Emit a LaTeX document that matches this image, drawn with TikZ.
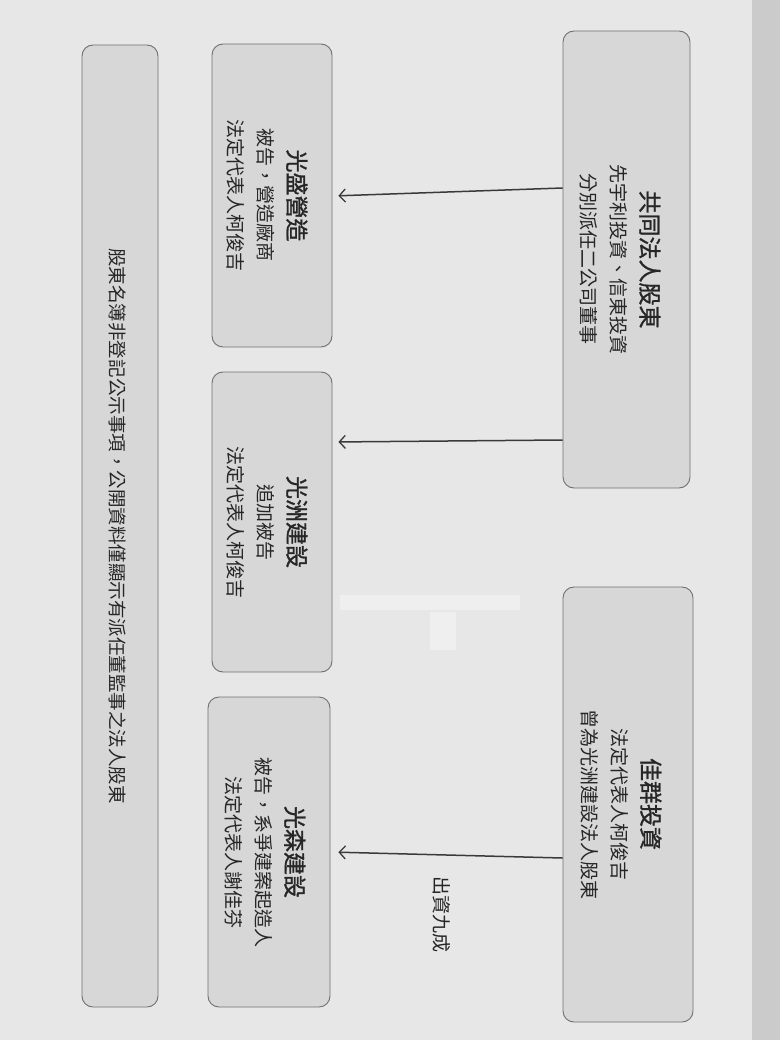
\documentclass[tikz,border=0pt]{standalone}
\usepackage{fontspec}
\setmainfont{Noto Sans CJK TC}
\newfontfamily\ttlfont[FakeBold=1.2]{Noto Sans CJK TC}
\usetikzlibrary{arrows.meta}
\definecolor{bg}{HTML}{E7E7E7}
\definecolor{strip}{HTML}{CBCBCB}
\definecolor{boxfill}{HTML}{D7D7D7}
\definecolor{boxline}{HTML}{707070}
\definecolor{ink}{HTML}{262626}
\definecolor{arrowc}{HTML}{3A3A3A}
\begin{document}
\begin{tikzpicture}[x=1pt,y=-1pt,
  box/.style={draw=boxline, fill=boxfill, line width=0.9pt, rounded corners=11pt, inner sep=0pt},
  txt/.style={rotate=-90, align=center, text=ink, inner sep=0pt, font=\fontsize{19}{30}\selectfont},
  arr/.style={-{Straight Barb[length=6pt,width=13pt,line width=1.3pt]}, line width=1.5pt, draw=arrowc}]
\useasboundingbox (0,0) rectangle (780,1040);
\fill[bg] (0,0) rectangle (780,1040);
\fill[strip] (752,0) rectangle (780,1040);
\fill[white, opacity=0.35] (340,595) rectangle (520,610);
\fill[white, opacity=0.35] (430,612) rectangle (456,650);
% boxes
\node[box, minimum width=127pt, minimum height=457pt] (b1) at (626.5,259.5) {};
\node[box, minimum width=120pt, minimum height=303pt] (b2) at (272,195.5) {};
\node[box, minimum width=120pt, minimum height=300pt] (b3) at (272,522) {};
\node[box, minimum width=130pt, minimum height=435pt] (b4) at (628,804.5) {};
\node[box, minimum width=122pt, minimum height=310pt] (b5) at (269,852) {};
\node[box, minimum width=76pt, minimum height=962pt] (b6) at (120,526) {};
% texts
\node[txt] (t1) at (620,259.5) {{\ttlfont\fontsize{23}{30}\selectfont 共同法人股東}\\先宇利投資、信東投資\\分別派任二公司董事};
\node[txt] (t2) at (267,195.5) {{\ttlfont\fontsize{23}{30}\selectfont 光盛營造}\\被告，營造廠商\\法定代表人柯俊吉};
\node[txt] (t3) at (267,522) {{\ttlfont\fontsize{23}{30}\selectfont 光洲建設}\\追加被告\\法定代表人柯俊吉};
\node[txt] (t4) at (621,804) {{\ttlfont\fontsize{23}{30}\selectfont 佳群投資}\\法定代表人柯俊吉\\曾為光洲建設法人股東};
\node[txt] (t5) at (265,852) {{\ttlfont\fontsize{23}{30}\selectfont 光森建設}\\被告，系爭建案起造人\\法定代表人謝佳芬};
\node[txt, font=\fontsize{18.5}{24}\selectfont] (t6) at (118,526) {股東名簿非登記公示事項，公開資料僅顯示有派任董監事之法人股東};
\node[txt] (lab) at (442,914) {出資九成};
% arrows
\draw[arr, shorten >=6pt] (b1.west |- 0,188) -- (b2.east |- 0,196);
\draw[arr, shorten >=6pt] (b1.west |- 0,440) -- (b3.east |- 0,442);
\draw[arr, shorten >=8pt] (b4.west |- 0,858) -- (b5.east |- 0,852);
\end{tikzpicture}
\end{document}
